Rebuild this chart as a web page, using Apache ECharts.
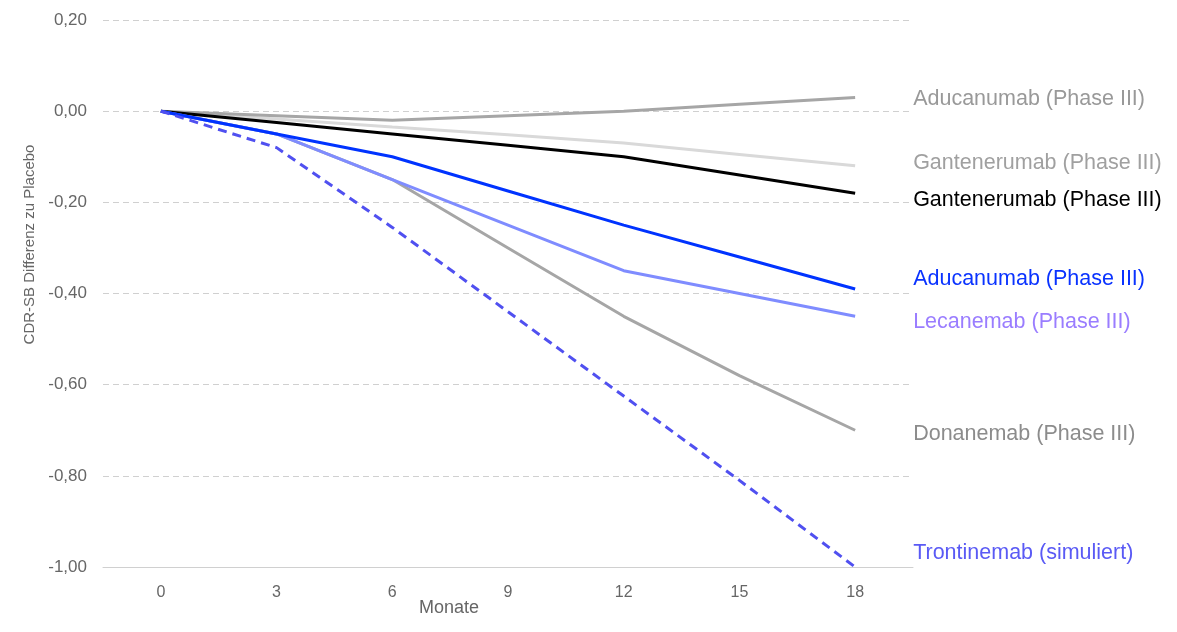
<!DOCTYPE html>
<html><head><meta charset="utf-8">
<script src="https://cdn.jsdelivr.net/npm/echarts@6/dist/echarts.min.js"></script>
<style>html,body{margin:0;padding:0;background:#fff}#c{width:1177px;height:632px}</style>
</head><body><div id="c"></div>
<script>
const months = ['0','3','6','9','12','15','18'];
const aducanumabGray = [0, -0.01, -0.02, -0.01, 0.0, 0.015, 0.03];
const gantenerumabLight = [0, -0.017, -0.035, -0.052, -0.07, -0.095, -0.12];
const gantenerumabBlack = [0, -0.025, -0.05, -0.075, -0.10, -0.14, -0.18];
const aducanumabBlue = [0, -0.05, -0.10, -0.175, -0.25, -0.32, -0.39];
const lecanemab = [0, -0.05, -0.15, -0.25, -0.35, -0.40, -0.45];
const donanemab = [0, -0.05, -0.15, -0.30, -0.45, -0.58, -0.70];
const trontinemab = [0, -0.08, -0.255, -0.44, -0.625, -0.81, -1.00];
const yTicks = {min: -1.0, max: 0.2, interval: 0.2};

const font = '"Liberation Sans", Arial, Helvetica, sans-serif';
function mk(name, data, color, labelColor, dy, extra) {
  return Object.assign({
    type: 'line', name: name, data: data, symbol: 'none', smooth: false,
    lineStyle: {color: color, width: 3},
    itemStyle: {color: color},
    endLabel: {show: true, formatter: name.trim(), color: labelColor, fontSize: 21.5,
      fontFamily: font, distance: 58, offset: [0, dy]}
  }, extra || {});
}
const chart = echarts.init(document.getElementById('c'));
chart.setOption({
  animation: false,
  grid: {left: 103, right: 264, top: 20, bottom: 65},
  xAxis: {
    type: 'category', data: months, boundaryGap: true,
    name: 'Monate', nameLocation: 'middle', nameGap: 32, nameMoveOverlap: false,
    nameTextStyle: {color: '#666', fontSize: 18, fontFamily: font, padding: [0, 118, 0, 0]},
    axisLine: {onZero: false, lineStyle: {color: '#d0d0d0', width: 1}},
    axisTick: {show: false},
    axisLabel: {color: '#666', fontSize: 16, fontFamily: font, margin: 18}
  },
  yAxis: {
    type: 'value', min: yTicks.min, max: yTicks.max, interval: yTicks.interval,
    name: 'CDR-SB Differenz zu Placebo', nameLocation: 'middle', nameGap: 64,
    nameTextStyle: {color: '#666', fontSize: 15, fontFamily: font, padding: [0, 0, 0, 98]},
    axisLine: {show: false}, axisTick: {show: false},
    axisLabel: {color: '#666', fontSize: 17, fontFamily: font, margin: 16,
      formatter: v => v.toFixed(2).replace('.', ',')},
    splitLine: {lineStyle: {color: '#d0d0d0', type: [6, 4], width: 1}}
  },
  series: [
    mk('Gantenerumab (Phase III)', gantenerumabLight, '#d9d9d9', '#a0a0a0', -3),
    mk('Aducanumab (Phase III)', aducanumabGray, '#a6a6a6', '#999999', 2),
    mk('Donanemab (Phase III)', donanemab, '#a6a6a6', '#8c8c8c', 4),
    mk('Gantenerumab (Phase III) ', gantenerumabBlack, '#000000', '#000000', 7),
    mk('Lecanemab (Phase III)', lecanemab, '#7f8cff', '#9a7dff', 6),
    mk('Aducanumab (Phase III) ', aducanumabBlue, '#0033ff', '#0a33ff', -10),
    mk('Trontinemab (simuliert)', trontinemab, '#5050f0', '#5a5af5', -14,
      {lineStyle: {color: '#5050f0', width: 3, type: [9, 6]}})
  ]
});
</script></body></html>
